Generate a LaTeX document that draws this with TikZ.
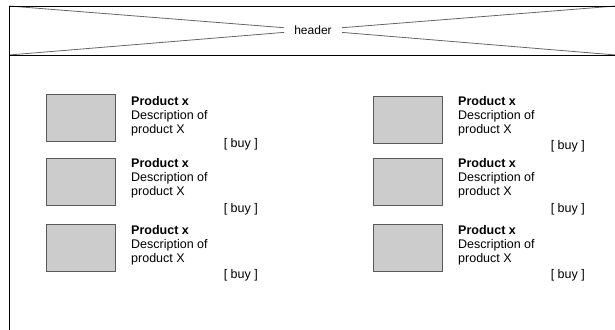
\documentclass[tikz,border=0pt]{standalone}
\usepackage{fontspec}
\setmainfont{Liberation Sans}
\usepackage{tikz}

\begin{document}
\begin{tikzpicture}[x=1pt, y=-1pt,
	frame/.style={line width=0.9pt},
	cross/.style={draw=gray!80!black, line width=0.8pt},
	picbox/.style={draw=black!65, fill=black!20, line width=0.9pt, minimum width=69pt, minimum height=47pt, inner sep=0pt, anchor=north west},
	info/.style={align=left, anchor=base west, inner sep=0pt, font=\fontsize{12.5}{14}\selectfont},
	buy/.style={anchor=base east, inner sep=0pt, font=\fontsize{12.5}{14}\selectfont}]

	\useasboundingbox (0, 0) rectangle (615, 329);

	\coordinate (TL) at (9, 6);
	\coordinate (TR) at (616, 6);
	\coordinate (HL) at (9, 55);
	\coordinate (HR) at (616, 55);
	\coordinate (BL) at (9, 330);

	\node (header) at (313, 30) [inner xsep=10pt, inner ysep=2pt, font=\fontsize{12}{14}\selectfont] {header};
	\draw [cross] (TL) -- (header);
	\draw [cross] (HL) -- (header);
	\draw [cross] (TR) -- (header);
	\draw [cross] (HR) -- (header);
	\draw [frame] (TR) -- (TL) -- (BL);
	\draw [frame] (HL) -- (HR);

	% left column (info anchored on its last line)
	\node (pic1) at (46, 94) [picbox] {};
	\node (info1) at (131, 133) [info] {\textbf{Product x}\\Description of\\product X};
	\node (buy1) at (258, 147) [buy] {[ buy ]};

	\node (pic2) at (46, 158) [picbox] {};
	\node (info2) at (131, 195) [info] {\textbf{Product x}\\Description of\\product X};
	\node (buy2) at (258, 212) [buy] {[ buy ]};

	\node (pic3) at (46, 224) [picbox] {};
	\node (info3) at (131, 262) [info] {\textbf{Product x}\\Description of\\product X};
	\node (buy3) at (258, 278) [buy] {[ buy ]};

	% right column
	\node (pic4) at (373, 96) [picbox] {};
	\node (info4) at (458, 133) [info] {\textbf{Product x}\\Description of\\product X};
	\node (buy4) at (585, 149) [buy] {[ buy ]};

	\node (pic5) at (373, 158) [picbox] {};
	\node (info5) at (458, 195) [info] {\textbf{Product x}\\Description of\\product X};
	\node (buy5) at (585, 212) [buy] {[ buy ]};

	\node (pic6) at (373, 224) [picbox] {};
	\node (info6) at (458, 262) [info] {\textbf{Product x}\\Description of\\product X};
	\node (buy6) at (585, 278) [buy] {[ buy ]};
\end{tikzpicture}
\end{document}
